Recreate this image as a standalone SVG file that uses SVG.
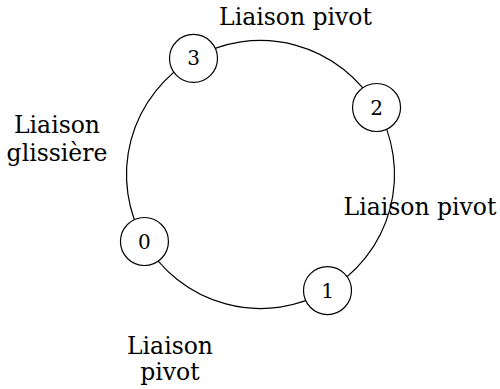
<svg xmlns="http://www.w3.org/2000/svg" width="500" height="389" viewBox="0 0 500 389">
  <style>
    .arc { fill: none; stroke: #000; stroke-width: 1.2; }
    .node circle { fill: #fff; stroke: #000; stroke-width: 1.2; }
    .node text { font-family: "DejaVu Serif", "Liberation Serif", serif; font-size: 20px; text-anchor: middle; dominant-baseline: central; fill: #000; }
    .lbl { font-family: "DejaVu Serif", "Liberation Serif", serif; font-size: 23.5px; text-anchor: middle; fill: #000; }
  </style>
  <rect width="500" height="389" fill="#fff"/>
  <!-- ring of joints: centre (260.5,174.5), radius 134 -->
  <g id="connectors">
    <path class="arc" d="M193.5,58.45 A134,134 0 0 1 376.55,107.5"/>
    <path class="arc" d="M376.55,107.5 A134,134 0 0 1 327.5,290.55"/>
    <path class="arc" d="M327.5,290.55 A134,134 0 0 1 144.45,241.5"/>
    <path class="arc" d="M144.45,241.5 A134,134 0 0 1 193.5,58.45"/>
  </g>
  <g id="node-0" class="node"><circle cx="144.45" cy="241.5" r="24"/><text x="144.45" y="241.5">0</text></g>
  <g id="node-1" class="node"><circle cx="327.5" cy="290.55" r="24"/><text x="327.5" y="290.55">1</text></g>
  <g id="node-2" class="node"><circle cx="376.55" cy="107.5" r="24"/><text x="376.55" y="107.5">2</text></g>
  <g id="node-3" class="node"><circle cx="193.5" cy="58.45" r="24"/><text x="193.5" y="58.45">3</text></g>
  <g id="labels">
    <text class="lbl" x="295.5" y="25">Liaison pivot</text>
    <text class="lbl" x="420" y="215">Liaison pivot</text>
    <text class="lbl" x="57" y="133">Liaison</text>
    <text class="lbl" x="57" y="161">glissière</text>
    <text class="lbl" x="170" y="354">Liaison</text>
    <text class="lbl" x="170" y="380">pivot</text>
  </g>
</svg>
